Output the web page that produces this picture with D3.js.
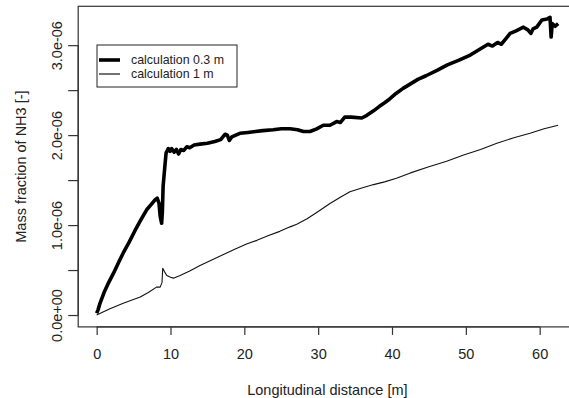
<!DOCTYPE html>
<html>
<head>
<meta charset="utf-8">
<script src="https://cdn.jsdelivr.net/npm/d3@7"></script>
<style>
  body { margin: 0; background: #fff; }
  svg { display: block; font-family: "Liberation Sans", Arial, sans-serif; }
</style>
</head>
<body>
<div id="chart"></div>
<script>
// data
const xThick = [0, 0.2, 0.45, 1.0, 1.5, 2.25, 3.0, 3.6, 4.4, 5.2, 6.0, 6.77, 7.4, 7.9, 8.2, 8.45, 8.6, 8.8, 8.9, 9.0,
  9.2, 9.4, 9.7, 9.95, 10.15, 10.5, 10.8, 11.1, 11.4, 11.8, 12.2, 12.6, 13.2, 14.0, 15.0, 16.0, 16.8, 17.4, 17.7, 17.96,
  18.3, 19.4, 20.5, 21.5, 22.5, 23.9, 25.0, 26.2, 27.2, 28.0, 28.9, 29.8, 30.7, 31.6, 32.5, 33.0, 33.6, 34.5, 35.9, 36.6,
  37.5, 38.3, 39.0, 39.5, 40.5, 41.5, 42.5, 43.5, 44.6, 46.1, 47.5, 49.0, 50.6, 52.0, 53.0, 53.6, 54.3, 54.8, 55.4, 56.0,
  56.8, 57.8, 58.4, 58.8, 59.1, 59.6, 60.3, 61.0, 61.4, 61.55, 61.7, 62.1, 62.5]
const yThick = [0.02, 0.06, 0.13, 0.25, 0.34, 0.46, 0.59, 0.69, 0.81, 0.94, 1.06, 1.17, 1.23, 1.28, 1.30, 1.24, 1.10, 1.02, 1.15, 1.43,
  1.62, 1.80, 1.85, 1.82, 1.85, 1.81, 1.84, 1.79, 1.84, 1.83, 1.87, 1.86, 1.89, 1.90, 1.91, 1.93, 1.95, 2.01, 2.00, 1.94,
  1.98, 2.02, 2.03, 2.04, 2.05, 2.06, 2.07, 2.07, 2.06, 2.04, 2.04, 2.07, 2.11, 2.11, 2.15, 2.14, 2.20, 2.20, 2.19, 2.22,
  2.27, 2.32, 2.36, 2.39, 2.46, 2.52, 2.57, 2.62, 2.66, 2.72, 2.78, 2.83, 2.89, 2.96, 3.01, 2.99, 3.03, 3.01, 3.07, 3.13,
  3.16, 3.20, 3.17, 3.13, 3.18, 3.20, 3.28, 3.29, 3.31, 3.09, 3.24, 3.21, 3.24].map(v => v * 1e-6)

const xThin = [0, 0.5, 1.8, 3.6, 5.9, 7.0, 8.1, 8.6, 8.85, 8.95, 9.2, 9.5, 10.0, 10.4, 11.3, 12.6, 14.0, 15.8, 17.1, 18.7,
  20.3, 21.7, 23.2, 24.8, 26.2, 27.1, 28.5, 29.8, 30.7, 31.6, 33.0, 34.3, 35.8, 37.5, 39.0, 40.6, 42.5, 45.1, 47.4, 49.7,
  52.0, 54.2, 56.5, 58.7, 60.6, 62.5]
const yThin = [0.0, 0.02, 0.07, 0.13, 0.20, 0.25, 0.31, 0.31, 0.36, 0.52, 0.48, 0.44, 0.42, 0.41, 0.44, 0.49, 0.55, 0.62, 0.67, 0.73,
  0.79, 0.83, 0.88, 0.93, 0.98, 1.01, 1.07, 1.14, 1.19, 1.24, 1.31, 1.37, 1.41, 1.45, 1.48, 1.52, 1.58, 1.65, 1.71, 1.78,
  1.84, 1.91, 1.97, 2.02, 2.07, 2.11].map(v => v * 1e-6)

const seriesNames = ['calculation 0.3 m', 'calculation 1 m']
const xTicks = [0, 10, 20, 30, 40, 50, 60]
const yTicks = [0, 0.5e-6, 1.0e-6, 1.5e-6, 2.0e-6, 2.5e-6, 3.0e-6]
const yTickLabels = ['0.0e+00', '', '1.0e-06', '', '2.0e-06', '', '3.0e-06']

// canvas
const svgWidth = 569
const svgHeight = 398
const plot = { left: 78.2, right: 576.6, top: 6.3, bottom: 326.9 }

const svg = d3.select('#chart').append('svg').attr('width', svgWidth).attr('height', svgHeight)

// scales (R style: 4% padding)
const x = d3.scaleLinear().domain([-2.5, 65]).range([plot.left, plot.right])
const y = d3.scaleLinear().domain([-0.132e-6, 3.432e-6]).range([plot.bottom, plot.top])

// lines
const line = d3.line().x(d => x(d[0])).y(d => y(d[1]))
svg.append('path').datum(d3.zip(xThin, yThin)).attr('d', line)
  .attr('fill', 'none').attr('stroke', '#111').attr('stroke-width', 1.1).attr('stroke-linejoin', 'round')
svg.append('path').datum(d3.zip(xThick, yThick)).attr('d', line)
  .attr('fill', 'none').attr('stroke', '#000').attr('stroke-width', 3.6).attr('stroke-linejoin', 'round')

// box
svg.append('rect').attr('x', plot.left).attr('y', plot.top)
  .attr('width', plot.right - plot.left).attr('height', plot.bottom - plot.top)
  .attr('fill', 'none').attr('stroke', '#333').attr('stroke-width', 1.2)

// x axis
const xAxis = svg.append('g').attr('transform', `translate(0, ${plot.bottom})`)
  .call(d3.axisBottom(x).tickValues(xTicks).tickSize(8).tickPadding(14).tickSizeOuter(0))
xAxis.select('.domain').attr('d', `M${x(0)},0H${x(60)}`).attr('stroke', '#333').attr('stroke-width', 1.2)
xAxis.selectAll('line').attr('stroke', '#333').attr('stroke-width', 1.2)
xAxis.selectAll('text').attr('font-size', 14.5).attr('fill', '#222').attr('font-family', null)

// y axis
const yAxis = svg.append('g').attr('transform', `translate(${plot.left}, 0)`)
  .call(d3.axisLeft(y).tickValues(yTicks).tickSize(10).tickSizeOuter(0)
    .tickFormat((d, i) => yTickLabels[i]))
yAxis.select('.domain').attr('d', `M0,${y(0)}V${y(3e-6)}`).attr('stroke', '#333').attr('stroke-width', 1.2)
yAxis.selectAll('line').attr('stroke', '#333').attr('stroke-width', 1.2)
yAxis.selectAll('text').attr('x', null).attr('dy', null)
  .attr('transform', 'translate(-16,0) rotate(-90)').attr('text-anchor', 'middle')
  .attr('font-size', 14.5).attr('fill', '#222').attr('font-family', null)

// axis titles
svg.append('text').attr('x', (plot.left + plot.right) / 2).attr('y', 395)
  .attr('text-anchor', 'middle').attr('font-size', 14.5).attr('fill', '#222')
  .text('Longitudinal distance [m]')
svg.append('text').attr('transform', `translate(26, ${(plot.top + plot.bottom) / 2}) rotate(-90)`)
  .attr('text-anchor', 'middle').attr('font-size', 14.5).attr('fill', '#222')
  .text('Mass fraction of NH3 [-]')

// legend
const legend = svg.append('g').attr('transform', 'translate(97, 45)')
legend.append('rect').attr('width', 140).attr('height', 42)
  .attr('fill', '#fff').attr('stroke', '#222').attr('stroke-width', 1)
const widths = [3.6, 1.1]
seriesNames.forEach((name, i) => {
  const ly = 15 + i * 14
  legend.append('line').attr('x1', 2).attr('x2', 23).attr('y1', ly).attr('y2', ly)
    .attr('stroke', '#000').attr('stroke-width', widths[i])
  legend.append('text').attr('x', 34).attr('y', ly + 4.3).attr('font-size', 12.4).attr('fill', '#222').text(name)
})
</script>
</body>
</html>
